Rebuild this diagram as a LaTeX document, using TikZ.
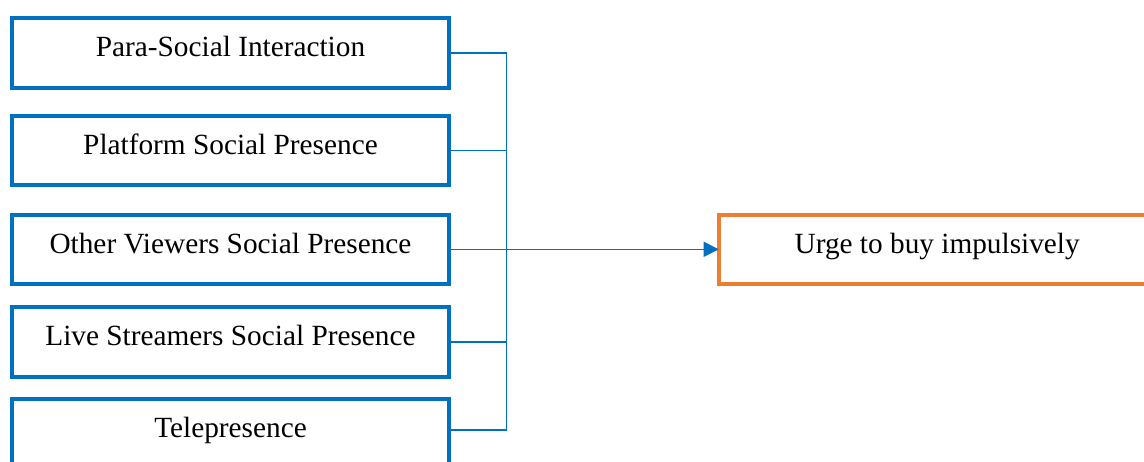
\documentclass[tikz,border=0pt]{standalone}
\usepackage{fontspec}
\setmainfont{Liberation Serif}
\usetikzlibrary{arrows.meta}
\definecolor{boxblue}{HTML}{0070C0}
\definecolor{boxorange}{HTML}{ED7D31}
\tikzset{
  factor/.style={draw=boxblue, line width=4pt, minimum width=437pt, minimum height=70pt,
    inner sep=0pt, outer sep=0pt, text height=25pt, text depth=17pt,
    font=\fontsize{29.3}{34}\selectfont},
  outcome/.style={factor, draw=boxorange, minimum height=69.6pt},
  conn/.style={draw=boxblue, line width=1.6pt},
}
\begin{document}
\begin{tikzpicture}[x=1pt, y=-1pt]
\useasboundingbox (0,0) rectangle (1144,461);
\begin{scope}
\clip (0,0) rectangle (1144,461);
\node[factor] (b1) at (230.5,52.75) {Para-Social Interaction};
\node[factor, minimum height=69pt] (b2) at (230.5,150.5) {Platform Social Presence};
\node[factor, minimum height=69.3pt] (b3) at (230.5,249.3) {Other Viewers Social Presence};
\node[factor, minimum height=69.5pt] (b4) at (230.5,341.75) {Live Streamers Social Presence};
\node[factor] (b5) at (230.5,433.7) {Telepresence};
\node[outcome] (out) at (937.2,249.3) {Urge to buy impulsively};
\coordinate (jx) at (506.5,0);
\coordinate (b5e) at ([yshift=3.7pt]b5.east);
\draw[conn] (b1.east) -- (b1.east -| jx) -- (b5e -| jx) -- (b5e);
\draw[conn] (b2.east) -- (b2.east -| jx);
\draw[conn] (b4.east) -- (b4.east -| jx);
\draw[conn, -{Triangle[length=15pt,width=15pt]}] (b3.east) -- (out.west);
\end{scope}
\end{tikzpicture}
\end{document}
